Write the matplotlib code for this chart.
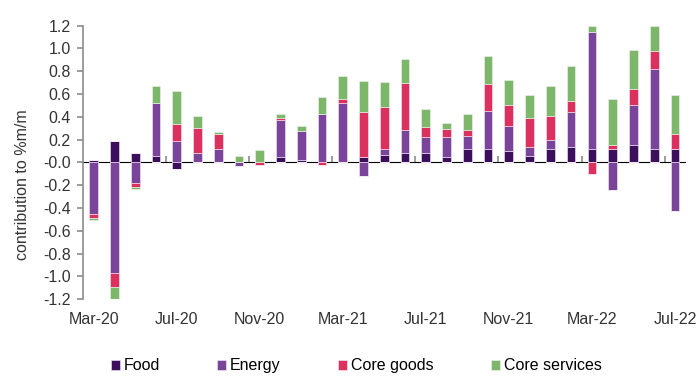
import numpy as np
import matplotlib
matplotlib.use('Agg')
import matplotlib.pyplot as plt

plt.rcParams['font.family'] = ['Liberation Sans', 'DejaVu Sans']

months = ['Mar-20', 'Apr-20', 'May-20', 'Jun-20', 'Jul-20', 'Aug-20', 'Sep-20', 'Oct-20',
          'Nov-20', 'Dec-20', 'Jan-21', 'Feb-21', 'Mar-21', 'Apr-21', 'May-21', 'Jun-21',
          'Jul-21', 'Aug-21', 'Sep-21', 'Oct-21', 'Nov-21', 'Dec-21', 'Jan-22', 'Feb-22',
          'Mar-22', 'Apr-22', 'May-22', 'Jun-22', 'Jul-22']

food = [0.02, 0.19, 0.08, 0.06, -0.06, 0.0, 0.0, 0.0,
        0.0, 0.045, 0.025, 0.0, 0.0, 0.045, 0.065, 0.08,
        0.08, 0.045, 0.12, 0.12, 0.10, 0.06, 0.12, 0.135,
        0.12, 0.12, 0.15, 0.12, 0.12]
energy = [-0.45, -0.97, -0.18, 0.46, 0.19, 0.08, 0.12, -0.03,
          0.0, 0.33, 0.25, 0.425, 0.52, -0.12, 0.05, 0.20,
          0.14, 0.18, 0.11, 0.33, 0.22, 0.075, 0.075, 0.31,
          1.02, -0.245, 0.35, 0.695, -0.43]
core_goods = [-0.04, -0.12, -0.035, 0.0, 0.15, 0.22, 0.13, 0.0,
              -0.02, 0.015, 0.0, -0.02, 0.035, 0.40, 0.37, 0.42,
              0.09, 0.07, 0.055, 0.24, 0.185, 0.255, 0.215, 0.09,
              -0.10, 0.035, 0.145, 0.165, 0.125]
core_services = [-0.015, -0.13, -0.015, 0.15, 0.29, 0.11, 0.015, 0.06,
                 0.11, 0.035, 0.04, 0.15, 0.20, 0.27, 0.22, 0.21,
                 0.16, 0.05, 0.14, 0.24, 0.22, 0.20, 0.26, 0.31,
                 0.055, 0.40, 0.345, 0.22, 0.345]

series = [('Food', food, '#3b0f5c'),
          ('Energy', energy, '#7a449b'),
          ('Core goods', core_goods, '#dc315e'),
          ('Core services', core_services, '#7db86a')]

x = np.arange(len(months))
fig = plt.figure(figsize=(7, 3.88), dpi=100)
ax = fig.add_axes([0.119, 0.229, 0.86, 0.705])

# stack positives up and negatives down separately
pos_base = np.zeros(len(x))
neg_base = np.zeros(len(x))
for name, vals, col in series:
    v = np.array(vals)
    p = np.where(v > 0, v, 0)
    n = np.where(v < 0, v, 0)
    ax.bar(x, p, 0.42, bottom=pos_base, color=col, edgecolor='#f4eef6', linewidth=0.4, label=name)
    ax.bar(x, n, 0.42, bottom=neg_base, color=col, edgecolor='#f4eef6', linewidth=0.4)
    pos_base += p
    neg_base += n

grey = '#8c8c8c'
txt = '#333333'
fs = 11.5
ax.set_xlim(-0.5, len(x) - 0.5)
ax.set_ylim(-1.2, 1.2)
ax.set_yticks(np.arange(-1.2, 1.21, 0.2))
ax.set_yticklabels([f'{t:.1f}' for t in np.arange(-1.2, 1.21, 0.2)])
ax.set_xticks(x[::4])
ax.set_xticklabels(months[::4])
ax.tick_params(axis='x', length=0, labelsize=fs, pad=9, colors=txt)
ax.tick_params(axis='y', length=4, width=1.2, color=grey, labelsize=fs, colors=txt, pad=5)
for s in ['top', 'right', 'bottom']:
    ax.spines[s].set_visible(False)
ax.spines['left'].set_color(grey)
ax.spines['left'].set_linewidth(1.2)
ax.set_ylabel('contribution to %m/m', fontsize=fs, color=txt)
ax.yaxis.set_label_coords(-0.088, 0.42)

# zero line with its own tick marks
zero = ax.secondary_xaxis(0.5)
zero.set_xticks(x[3::4] + 0.5)
zero.set_xticklabels([])
zero.tick_params(length=4, width=1.2, color=grey)
zero.spines['bottom'].set_color(grey)
zero.spines['bottom'].set_linewidth(1.5)

fig.legend(loc='center', bbox_to_anchor=(0.509, 0.057), ncol=4, frameon=False,
           fontsize=fs, handlelength=0.55, handleheight=0.55, handletextpad=0.25,
           columnspacing=3.6)

fig.savefig('out.png', dpi=100)
